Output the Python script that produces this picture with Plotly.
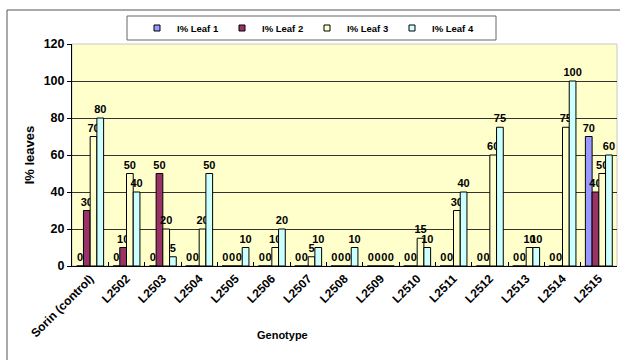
import plotly.graph_objects as go

genotypes = ["Sorin (control)", "L2502", "L2503", "L2504", "L2505", "L2506", "L2507",
             "L2508", "L2509", "L2510", "L2511", "L2512", "L2513", "L2514", "L2515"]
leaf1 = [0, 0, 0, 0, 0, 0, 0, 0, 0, 0, 0, 0, 0, 0, 70]
leaf2 = [30, 10, 50, 0, 0, 0, 0, 0, 0, 0, 0, 0, 0, 0, 40]
leaf3 = [70, 50, 20, 20, 0, 10, 5, 0, 0, 15, 30, 60, 10, 75, 50]
leaf4 = [80, 40, 5, 50, 10, 20, 10, 10, 0, 10, 40, 75, 10, 100, 60]
series_names = ["I% Leaf 1", "I% Leaf 2", "I% Leaf 3", "I% Leaf 4"]
series_values = [leaf1, leaf2, leaf3, leaf4]
colors = ["#9999FF", "#993366", "#FFFFCC", "#CCFFFF"]

FONT = "Liberation Sans, Arial, sans-serif"

fig = go.Figure()
for name, vals, col in zip(series_names, series_values, colors):
    fig.add_trace(go.Bar(
        x=genotypes, y=vals, name=name, showlegend=False,
        marker=dict(color=col, line=dict(color="black", width=1)),
        text=[str(v) for v in vals], textposition="outside",
        textfont=dict(family=FONT, size=11, color="black", weight="bold"),
        constraintext="none", cliponaxis=False,
    ))
# legend entries with small square swatches
for name, col in zip(series_names, colors):
    fig.add_trace(go.Scatter(
        x=[None], y=[None], mode="markers", name=name,
        marker=dict(symbol="square", size=6, color=col, line=dict(color="black", width=1)),
    ))

L, R, T, B = 72, 3, 44, 94
W, H = 620, 360
pw, ph = W - L - R, H - T - B

def px(x):
    return (x - L) / pw

def py(y):
    return (H - B - y) / ph

shapes = [
    # outer chart border
    dict(type="rect", xref="paper", yref="paper", x0=px(7), x1=px(640), y0=py(380), y1=py(10),
         line=dict(color="#555555", width=1), fillcolor="rgba(0,0,0,0)", layer="below"),
    # legend box
    dict(type="rect", xref="paper", yref="paper", x0=px(127), x1=px(496), y0=py(40), y1=py(16),
         line=dict(color="#666666", width=1), fillcolor="white", layer="below"),
    # plot area border
    dict(type="rect", xref="paper", yref="paper", x0=0, x1=1, y0=0, y1=1,
         line=dict(color="#C8C8C8", width=1), fillcolor="rgba(0,0,0,0)", layer="below"),
]

fig.update_layout(
    width=W, height=H,
    margin=dict(l=L, r=R, t=T, b=B, pad=0, autoexpand=False),
    paper_bgcolor="white", plot_bgcolor="#FFFFCC",
    barmode="group", bargap=0.26, bargroupgap=0,
    font=dict(family=FONT, color="black"),
    shapes=shapes,
    legend=dict(
        orientation="h", xref="container", yref="container",
        x=137 / W, y=1 - 28 / H, xanchor="left", yanchor="middle",
        font=dict(family=FONT, size=9.5, color="black", weight="bold"),
        bgcolor="rgba(0,0,0,0)", borderwidth=0,
        entrywidth=40, itemwidth=30, tracegroupgap=0,
    ),
    annotations=[
        dict(text="Genotype", xref="paper", yref="paper", x=px(282), y=py(343),
             showarrow=False, font=dict(family=FONT, size=11, weight="bold")),
    ],
)
fig.update_xaxes(
    type="category", showline=True, linecolor="black", linewidth=1,
    ticks="inside", ticklen=4, tickcolor="black", tickson="boundaries",
    tickangle=-45, tickfont=dict(family=FONT, size=12, weight="bold"),
    showgrid=False, zeroline=False, automargin=False,
)
fig.update_yaxes(
    range=[0, 120], dtick=20, showline=True, linecolor="black", linewidth=1,
    ticks="outside", ticklen=4, tickcolor="black",
    tickfont=dict(family=FONT, size=12.5, weight="bold"),
    showgrid=True, gridcolor="#333333", gridwidth=1, zeroline=False, automargin=False,
    title=dict(text="I% leaves", font=dict(family=FONT, size=13, weight="bold"), standoff=6),
)

fig.write_html("out.html", config={"displayModeBar": False},
               post_script="document.body.style.margin='0';document.body.style.overflow='hidden';")
